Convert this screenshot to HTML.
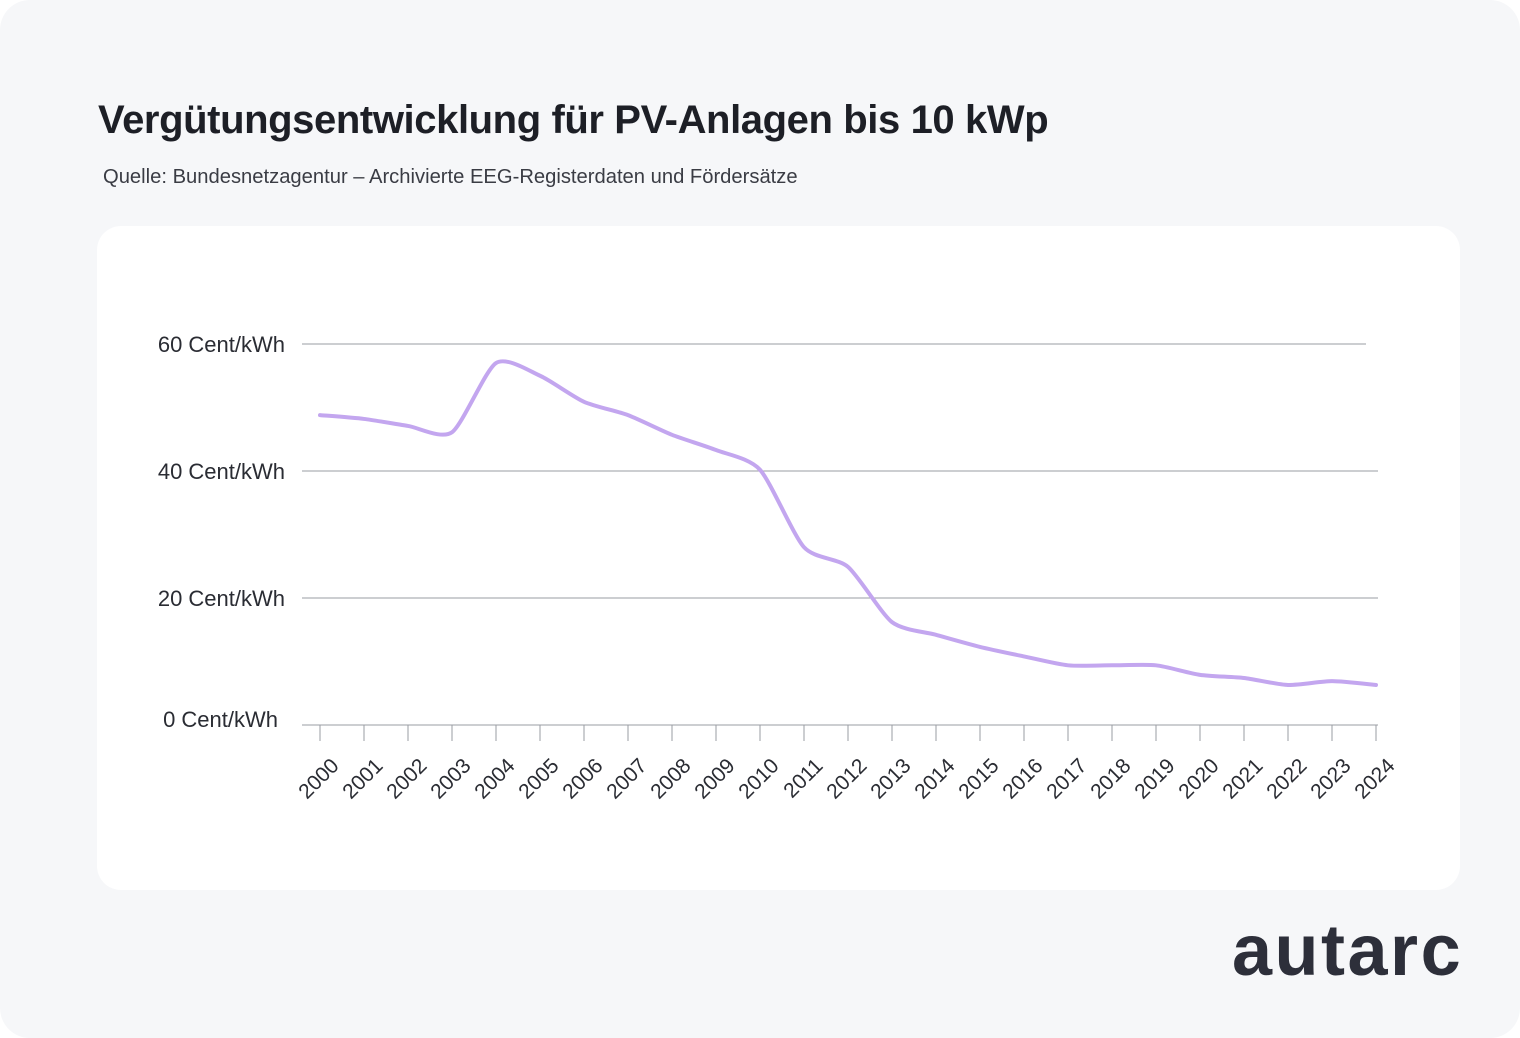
<!DOCTYPE html>
<html><head><meta charset="utf-8"><style>
body{margin:0;width:1520px;height:1038px;background:#fff;font-family:"Liberation Sans",sans-serif;overflow:hidden}
#frame{position:absolute;left:0;top:0;width:1520px;height:1038px;background:#f6f7f9;border-radius:30px}
#title{position:absolute;left:98px;top:98px;font-size:40px;font-weight:bold;color:#1d1f26;letter-spacing:-0.4px;white-space:nowrap}
#sub{position:absolute;left:103px;top:166px;font-size:20.2px;color:#3a3c44;white-space:nowrap}
#card{position:absolute;left:97px;top:226px;width:1363px;height:664px;background:#fff;border-radius:24px}
#logo{position:absolute;left:1232px;top:910px;font-size:72px;font-weight:bold;color:#2d2f3a;letter-spacing:2.5px}
svg{position:absolute;left:0;top:0}
</style></head><body>
<div id="frame"></div>
<div id="title">Vergütungsentwicklung für PV-Anlagen bis 10 kWp</div>
<div id="sub">Quelle: Bundesnetzagentur – Archivierte EEG-Registerdaten und Fördersätze</div>
<div id="card"></div>
<svg id="chart" width="1520" height="1038"></svg>
<div id="logo">autarc</div>
<script>
const years=[2000,2001,2002,2003,2004,2005,2006,2007,2008,2009,2010,2011,2012,2013,2014,2015,2016,2017,2018,2019,2020,2021,2022,2023,2024];
const values=[48.8,48.2,47.1,46.1,57.0,55.0,50.9,48.8,45.7,43.3,40.2,28.0,24.9,16.2,14.2,12.3,10.8,9.4,9.4,9.4,7.9,7.4,6.3,6.9,6.3];
const yTicks=[0,20,40,60];
const yTickLabels=["0 Cent/kWh","20 Cent/kWh","40 Cent/kWh","60 Cent/kWh"];
const NS="http://www.w3.org/2000/svg";
const svg=document.getElementById('chart');
function xs(yr){return 320+(yr-2000)*44;}
function ys(v){return 725-v*6.35;}
function mk(t,a){const e=document.createElementNS(NS,t);for(const k in a)e.setAttribute(k,a[k]);svg.appendChild(e);return e;}
yTicks.forEach((t,i)=>{
  if(t>0){const g=mk('line',{x1:302,x2:t===60?1366:1378,y1:ys(t),y2:ys(t),stroke:'#9a9ca3','stroke-width':1});
  
  }
  const l=mk('text',{x:t===0?278:285,y:ys(t)+(t===0?2:8),'text-anchor':'end','font-size':22,fill:'#2a2c33','font-family':'Liberation Sans, sans-serif'});
  l.textContent=yTickLabels[i];
  
  
});
const ax=mk('line',{x1:302,x2:1378,y1:725,y2:725,stroke:'#9a9ca3','stroke-width':1});


years.forEach(yr=>{
  const tk=mk('line',{x1:xs(yr),x2:xs(yr),y1:725,y2:741,stroke:'#9a9ca3','stroke-width':1});
  
  
  const x=xs(yr)+20,y=767;
  const l=mk('text',{x:x,y:y,'text-anchor':'end','font-size':21,fill:'#2a2c33','font-family':'Liberation Sans, sans-serif',transform:`rotate(-45 ${x} ${y})`});
  l.textContent=yr;
  
  
});
const pts=years.map((yr,i)=>[xs(yr),ys(values[i])]);
let d='M'+pts[0][0]+','+pts[0][1];
for(let i=1;i<pts.length;i++){
  const p0=pts[Math.max(0,i-2)],p1=pts[i-1],p2=pts[i],p3=pts[Math.min(pts.length-1,i+1)];
  const k=0.12;
  const c1x=p1[0]+(p2[0]-p0[0])*k,c1y=p1[1]+(p2[1]-p0[1])*k;
  const c2x=p2[0]-(p3[0]-p1[0])*k,c2y=p2[1]-(p3[1]-p1[1])*k;
  d+=` C${c1x},${c1y} ${c2x},${c2y} ${p2[0]},${p2[1]}`;
}
const p=mk('path',{d:d,fill:'none',stroke:'#c3a6ef','stroke-width':4,'stroke-linejoin':'round','stroke-linecap':'round'});


</script>
</body></html>
